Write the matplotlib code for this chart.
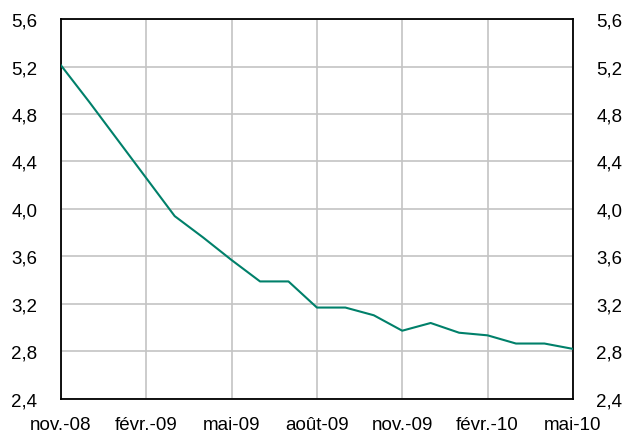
import matplotlib
matplotlib.use("Agg")
import matplotlib.pyplot as plt

# valeurs mensuelles nov.-08 -> mai-10
mois = ["nov.-08", "déc.-08", "janv.-09", "févr.-09", "mars-09", "avr.-09",
        "mai-09", "juin-09", "juil.-09", "août-09", "sept.-09", "oct.-09",
        "nov.-09", "déc.-09", "janv.-10", "févr.-10", "mars-10", "avr.-10",
        "mai-10"]
valeurs = [5.21, 4.90, 4.58, 4.26, 3.94, 3.76, 3.57, 3.39, 3.39, 3.17,
           3.17, 3.105, 2.975, 3.04, 2.958, 2.936, 2.867, 2.867, 2.822]

xticks_pos = [0, 3, 6, 9, 12, 15, 18]
xticks_lab = ["nov.-08", "févr.-09", "mai-09", "août-09", "nov.-09",
              "févr.-10", "mai-10"]
yticks = [2.4, 2.8, 3.2, 3.6, 4.0, 4.4, 4.8, 5.2, 5.6]
yticks_lab = ["2,4", "2,8", "3,2", "3,6", "4,0", "4,4", "4,8", "5,2", "5,6"]

plt.rcParams["font.family"] = ["Liberation Sans", "DejaVu Sans"]

fig = plt.figure(figsize=(6.22, 4.35), dpi=100)
ax = fig.add_axes([0.098, 0.0805, 0.823, 0.8735])

x = list(range(len(valeurs)))
ax.plot(x, valeurs, color="#00806a", linewidth=1.5, zorder=3)

ax.set_xlim(0, len(valeurs) - 1)
ax.set_ylim(2.4, 5.6)
ax.set_xticks(xticks_pos)
ax.set_xticklabels(xticks_lab, fontsize=13.5)
ax.set_yticks(yticks)
ax.set_yticklabels(yticks_lab, fontsize=13.5)
ax.tick_params(axis="y", length=0, pad=17, labelright=True, right=False)
ax.tick_params(axis="x", length=0, pad=12)

ax.grid(True, color="#c4c4c4", linewidth=1.2)
ax.set_axisbelow(True)
for s in ax.spines.values():
    s.set_color("black")
    s.set_linewidth(1.3)

fig.savefig("out.png", dpi=100)
